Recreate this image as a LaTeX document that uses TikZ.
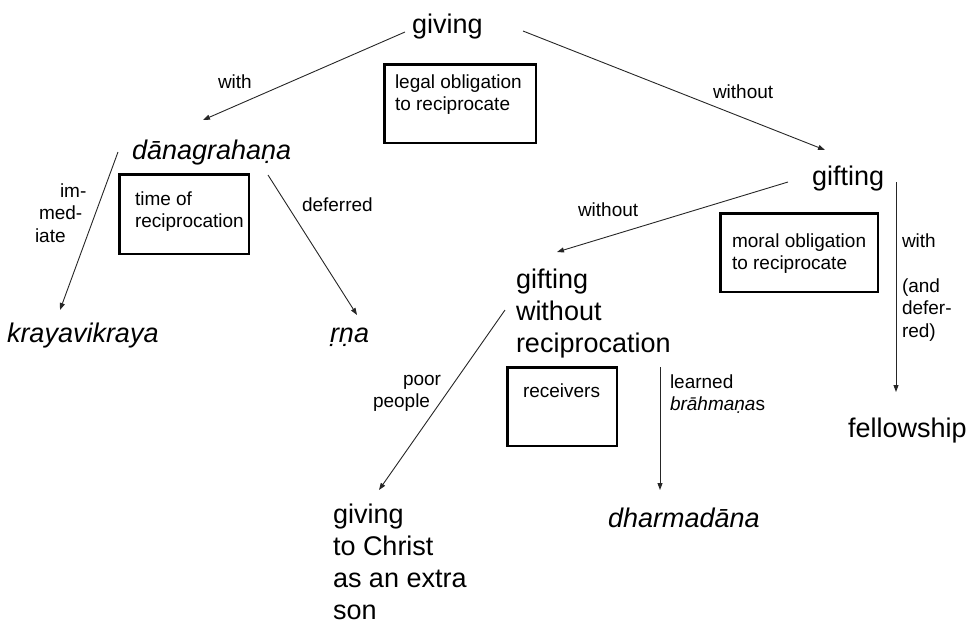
\documentclass[tikz,border=0pt]{standalone}
\usepackage{fontspec}
\setmainfont{Liberation Sans}
\usetikzlibrary{arrows.meta}
\newcommand\BigTxt{\fontsize{27}{32}\selectfont}
\newcommand\SmallTxt{\fontsize{19}{22.5}\selectfont}
\newcommand\LinesL[1]{\begin{tabular}[t]{@{}l@{}}#1\end{tabular}}
\tikzset{
  bigtext/.style={inner sep=0pt, outer sep=0pt, anchor=base west, font=\BigTxt},
  smalltext/.style={inner sep=0pt, outer sep=0pt, anchor=base west, font=\SmallTxt},
  obox/.style={draw=black, line width=2.5pt, inner sep=0pt, outer sep=0pt, anchor=north west},
  arr/.style={draw=black!85, line width=0.9pt, -{Triangle[length=7pt,width=5pt]}}
}
\begin{document}
\begin{tikzpicture}[x=1pt,y=-1pt]
\useasboundingbox (0,0) rectangle (972,625);
% main terms
\node[bigtext] (giving) at (412,33) {giving};
\node[bigtext] (dana) at (132,159) {\itshape dānagrahaṇa};
\node[bigtext] (kraya) at (7,342) {\itshape krayavikraya};
\node[bigtext] (rna) at (330,342) {\itshape ṛṇa};
\node[bigtext] (gifting) at (812,185) {gifting};
\node[bigtext] (gwr) at (516,288) {\LinesL{gifting\\without\\reciprocation}};
\node[bigtext] (fellow) at (848,437) {fellowship};
\node[bigtext] (christ) at (333,523) {\LinesL{giving\\to Christ\\as an extra\\son}};
\node[bigtext] (dharma) at (608,527) {\itshape dharmadāna};
% boxes
\node[obox, minimum width=151.5pt, minimum height=78.5pt] (legalbox) at (384.25,64.25) {};
\node[smalltext] (legal) at (395,88) {\LinesL{legal obligation\\to reciprocate}};
\node[obox, minimum width=129.5pt, minimum height=79.5pt] (timebox) at (119.25,174.25) {};
\node[smalltext] (time) at (135,205) {\LinesL{time of\\reciprocation}};
\node[obox, minimum width=157.5pt, minimum height=78.5pt] (moralbox) at (720.25,213.25) {};
\node[smalltext] (moral) at (732,247) {\LinesL{moral obligation\\to reciprocate}};
\node[obox, minimum width=109.5pt, minimum height=78.5pt] (recvbox) at (507.25,367.25) {};
\node[smalltext] (recv) at (523,397) {receivers};
% edge labels
\node[smalltext] (lwith) at (218,88) {with};
\node[smalltext] (lwithout) at (713,98) {without};
\node[smalltext] (limm) at (35,197) {\LinesL{\hspace{25pt}im-\\\hspace{4pt}med-\\iate}};
\node[smalltext] (ldef) at (302,211) {deferred};
\node[smalltext] (lwithout2) at (578,216) {without};
\node[smalltext] (lwith2) at (902,247) {\LinesL{with\\ \\(and\\defer-\\red)}};
\node[smalltext] (llearned) at (670,388) {\LinesL{learned\\\textit{brāhmaṇa}s}};
\node[smalltext] (lpoor) at (373,385) {\LinesL{\hspace{30pt}poor\\people}};
% connectors
\draw[arr] ([shift={(-7,-1)}]giving.base west) -- ([shift={(71,-39)}]dana.base west);
\draw[arr] ([shift={(111,-2)}]giving.base west) -- ([shift={(13,-35)}]gifting.base west);
\draw[arr] ([shift={(-14,-7)}]dana.base west) -- ([shift={(53,-32)}]kraya.base west);
\draw[arr] ([shift={(136,16)}]dana.base west) -- ([shift={(27,-27)}]rna.base west);
\draw[arr] ([shift={(-24,-3)}]gifting.base west) -- ([shift={(41,-36)}]gwr.base west);
\draw[arr] ([shift={(84,-3)}]gifting.base west) -- ([shift={(48,-45)}]fellow.base west);
\draw[arr] ([shift={(-11,22)}]gwr.base west) -- ([shift={(46,-33)}]christ.base west);
\draw[arr] ([shift={(144,79)}]gwr.base west) -- ([shift={(52,-37)}]dharma.base west);
\end{tikzpicture}
\end{document}
